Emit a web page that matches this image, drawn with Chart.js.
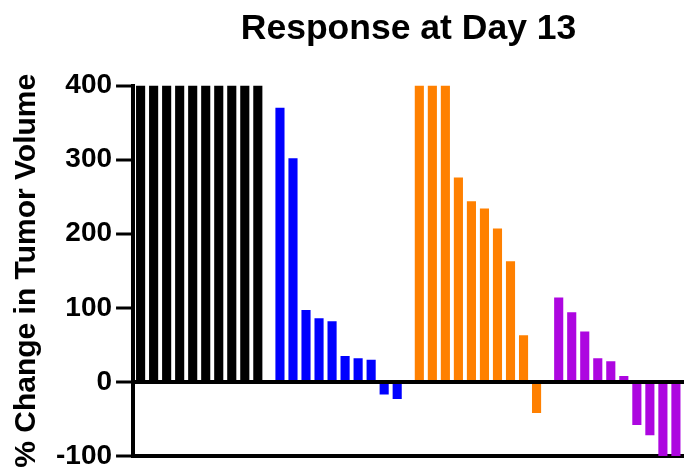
<!DOCTYPE html>
<html>
<head>
<meta charset="utf-8">
<script src="https://cdn.jsdelivr.net/npm/chart.js@4"></script>
<style>
  body { margin: 0; background: #fff; }
  #wrap { width: 684px; height: 470px; }
</style>
</head>
<body>
<div id="wrap"><canvas id="chartWaterfall"></canvas></div>
<script>
// values per group (clipped at 400 / -100)
var blackVals = [400, 400, 400, 400, 400, 400, 400, 400, 400, 400];
var blueVals = [370, 302, 97, 86, 82, 35, 32, 30, -17, -23];
var orangeVals = [400, 400, 400, 276, 244, 234, 207, 163, 63, -42];
var purpleVals = [114, 94, 68, 32, 28, 8, -58, -72, -100, -100];
var groupColors = ['#000000', '#0000ff', '#ff8000', '#ad06e0'];
var yTicks = [400, 300, 200, 100, 0, -100];

var groups = [blackVals, blueVals, orangeVals, purpleVals];
var groupGap = 0.7; // extra space between groups, in bar slots

// bars sit at slot index, groups separated by a small gap
var datasets = [];
var slot = 0;
groups.forEach(function (g, gi) {
    var d = [];
    for (var i = 0; i < g.length; i++) {
        d.push({ x: slot + gi * groupGap, y: g[i] });
        slot++;
    }
    datasets.push({
        data: d,
        backgroundColor: groupColors[gi],
        borderWidth: 0,
        barPercentage: 0.7,
        categoryPercentage: 1.0,
        grouped: false
    });
});
var lastX = slot - 1 + (groups.length - 1) * groupGap;

var fontFam = '"Liberation Sans", Arial, sans-serif';

var chartWaterfall = new Chart(document.getElementById('chartWaterfall'), {
    type: 'bar',
    data: { datasets: datasets },
    options: {
        responsive: true,
        maintainAspectRatio: false,
        animation: false,
        layout: { padding: { top: 4, right: 0, bottom: 6, left: 9 } },
        plugins: {
            legend: { display: false },
            tooltip: { enabled: false },
            title: {
                display: true,
                text: 'Response at Day 13',
                fullSize: false,
                color: '#000',
                font: { family: fontFam, size: 35.5, weight: 'bold' },
                padding: { top: 4, bottom: 35 }
            }
        },
        scales: {
            x: {
                type: 'linear',
                offset: false,
                min: -0.58,
                max: lastX + 0.62,
                grid: { display: false },
                border: { display: true, color: '#000', width: 4 },
                ticks: { display: false }
            },
            y: {
                min: -100,
                max: 400,
                afterBuildTicks: function (axis) {
                    axis.ticks = yTicks.map(function (v) { return { value: v }; });
                },
                border: { display: true, color: '#000', width: 4 },
                grid: {
                    drawOnChartArea: true,
                    color: function (ctx) { return ctx.tick && ctx.tick.value === 0 ? '#000' : 'rgba(0,0,0,0)'; },
                    lineWidth: 4,
                    tickColor: '#000',
                    tickWidth: 3,
                    tickLength: 17
                },
                ticks: {
                    color: '#000',
                    padding: 4,
                    font: { family: fontFam, size: 28, weight: 'bold', lineHeight: 0.5 }
                },
                title: {
                    display: true,
                    text: '% Change in Tumor Volume',
                    color: '#000',
                    font: { family: fontFam, size: 30, weight: 'bold' },
                    padding: { top: 0, bottom: 7 }
                }
            }
        }
    }
});
</script>
</body>
</html>
